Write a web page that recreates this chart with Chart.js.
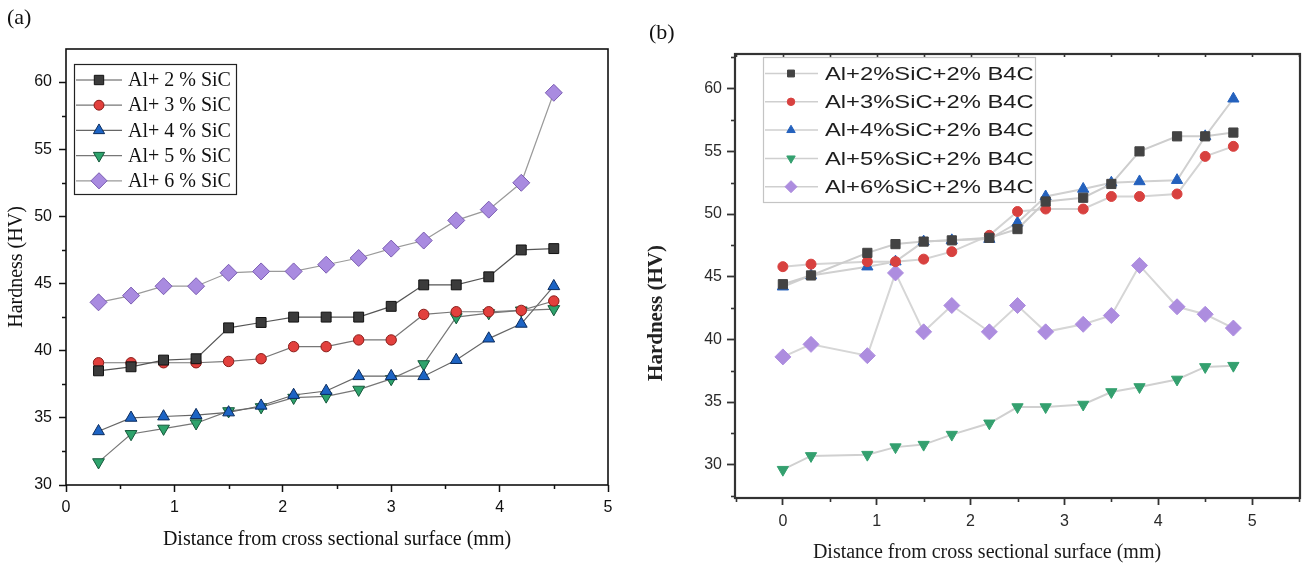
<!DOCTYPE html>
<html>
<head>
<meta charset="utf-8">
<script src="https://cdn.jsdelivr.net/npm/chart.js@4.4.1/dist/chart.umd.min.js"></script>
<style>
  body { margin: 0; background: #fff; width: 1309px; height: 564px; overflow: hidden; position: relative; }
  .panel { position: absolute; top: 0; }
  .tag { position: absolute; font-family: "Liberation Serif", serif; font-size: 22px; color: #111; }
</style>
</head>
<body>
<div class="panel" style="left:0"><canvas id="chartA" width="640" height="564"></canvas></div>
<div class="panel" style="left:640px"><canvas id="chartB" width="669" height="564"></canvas></div>
<div class="tag" style="left:7px;top:4px">(a)</div>
<div class="tag" style="left:649px;top:19px">(b)</div>
<script>
// panel (a): Al + SiC
const distA = [0.3, 0.6, 0.9, 1.2, 1.5, 1.8, 2.1, 2.4, 2.7, 3.0, 3.3, 3.6, 3.9, 4.2, 4.5];
const sic2 = [38.5, 38.8, 39.3, 39.4, 41.7, 42.1, 42.5, 42.5, 42.5, 43.3, 44.9, 44.9, 45.5, 47.5, 47.6];
const sic3 = [39.1, 39.1, 39.1, 39.1, 39.2, 39.4, 40.3, 40.3, 40.8, 40.8, 42.7, 42.9, 42.9, 43.0, 43.7];
const sic4 = [34.0, 35.0, 35.1, 35.2, 35.4, 35.9, 36.7, 37.0, 38.1, 38.1, 38.1, 39.3, 40.9, 42.0, 44.8];
const sic5 = [31.7, 33.8, 34.2, 34.6, 35.5, 35.8, 36.5, 36.6, 37.1, 37.9, 39.0, 42.5, 42.8, 43.0, 43.1];
const sic6 = [43.6, 44.1, 44.8, 44.8, 45.8, 45.9, 45.9, 46.4, 46.9, 47.6, 48.2, 49.7, 50.5, 52.5, 59.2];
const labelsA = ['Al+ 2 % SiC', 'Al+ 3 % SiC', 'Al+ 4 % SiC', 'Al+ 5 % SiC', 'Al+ 6 % SiC'];

// panel (b): Al + SiC + 2% B4C
const distB = [0, 0.3, 0.9, 1.2, 1.5, 1.8, 2.2, 2.5, 2.8, 3.2, 3.5, 3.8, 4.2, 4.5, 4.8];
const b4c2 = [44.4, 45.1, 46.9, 47.6, 47.8, 47.9, 48.1, 48.8, 51.0, 51.3, 52.4, 55.0, 56.2, 56.2, 56.5];
const b4c3 = [45.8, 46.0, 46.2, 46.2, 46.4, 47.0, 48.3, 50.2, 50.4, 50.4, 51.4, 51.4, 51.6, 54.6, 55.4];
const b4c4 = [44.2, 45.1, 45.8, 46.2, 47.8, 47.9, 48.0, 49.3, 51.4, 52.0, 52.5, 52.6, 52.7, 56.2, 59.2];
const b4c5 = [29.6, 30.7, 30.8, 31.4, 31.6, 32.4, 33.3, 34.6, 34.6, 34.8, 35.8, 36.2, 36.8, 37.8, 37.9];
const b4c6 = [38.6, 39.6, 38.7, 45.3, 40.6, 42.7, 40.6, 42.7, 40.6, 41.2, 41.9, 45.9, 42.6, 42.0, 40.9];
const labelsB = ['Al+2%SiC+2% B4C', 'Al+3%SiC+2% B4C', 'Al+4%SiC+2% B4C', 'Al+5%SiC+2% B4C', 'Al+6%SiC+2% B4C'];

const xTitle = 'Distance from cross sectional surface (mm)';
const yTitle = 'Hardness (HV)';

const pts = (xs, ys) => xs.map((x, i) => ({x: x, y: ys[i]}));

const styleA = [
  {pointStyle: 'rect', pointRadius: 7, rotation: 0, fill: '#3b3b3b', edge: '#111', line: '#555'},
  {pointStyle: 'circle', pointRadius: 5.2, rotation: 0, fill: '#e2403d', edge: '#8a1b18', line: '#777'},
  {pointStyle: 'triangle', pointRadius: 6.8, rotation: 0, fill: '#1d64c4', edge: '#0b2c5e', line: '#666'},
  {pointStyle: 'triangle', pointRadius: 6.8, rotation: 180, fill: '#2ea36c', edge: '#14573a', line: '#777'},
  {pointStyle: 'rectRot', pointRadius: 8.5, rotation: 0, fill: '#a98be0', edge: '#7a5cb2', line: '#9a9a9a'}
];
const styleB = [
  {pointStyle: 'rect', pointRadius: 6.5, rotation: 0, fill: '#434343', edge: '#434343', line: '#cdcdcd'},
  {pointStyle: 'circle', pointRadius: 5, rotation: 0, fill: '#d8413f', edge: '#d8413f', line: '#d4d4d4'},
  {pointStyle: 'triangle', pointRadius: 6.5, rotation: 0, fill: '#2461bd', edge: '#2461bd', line: '#d0d0d0'},
  {pointStyle: 'triangle', pointRadius: 6.5, rotation: 180, fill: '#34a06f', edge: '#34a06f', line: '#d0d0d0'},
  {pointStyle: 'rectRot', pointRadius: 8, rotation: 0, fill: '#ad8ddf', edge: '#ad8ddf', line: '#d6d6d6'}
];

function makeSets(xs, series, labels, styles, lineW, edgeW) {
  return series.map((ys, i) => ({
    label: labels[i],
    data: pts(xs, ys),
    showLine: true,
    borderColor: styles[i].line,
    borderWidth: lineW,
    pointStyle: styles[i].pointStyle,
    pointRadius: styles[i].pointRadius,
    pointRotation: styles[i].rotation,
    pointBackgroundColor: styles[i].fill,
    pointBorderColor: styles[i].edge,
    pointBorderWidth: edgeW,
    tension: 0
  }));
}

// frame box, minor ticks, optional top ticks
const framePlugin = {
  id: 'frame',
  afterDraw(chart, args, o) {
    const {ctx, chartArea: a, scales} = chart;
    ctx.save();
    ctx.strokeStyle = o.color;
    ctx.lineWidth = o.width;
    ctx.strokeRect(a.left, a.top, a.right - a.left, a.bottom - a.top);
    ctx.lineWidth = o.tickWidth;
    const xs = scales.x, ys = scales.y;
    for (let v = Math.ceil(xs.min / o.minorX) * o.minorX; v <= xs.max + 1e-9; v += o.minorX) {
      const px = Math.round(xs.getPixelForValue(v)) + 0.5;
      const major = Math.abs(v - Math.round(v)) < 1e-6;
      ctx.beginPath();
      if (!major) { ctx.moveTo(px, a.bottom); ctx.lineTo(px, a.bottom + o.minorLen); }
      if (o.topTicks) { ctx.moveTo(px, a.top); ctx.lineTo(px, a.top + o.topLen); }
      ctx.stroke();
    }
    for (let v = Math.ceil(ys.min / o.minorY) * o.minorY; v <= ys.max + 1e-9; v += o.minorY) {
      if (Math.abs(v / 5 - Math.round(v / 5)) < 1e-6) continue;
      const py = Math.round(ys.getPixelForValue(v)) + 0.5;
      ctx.beginPath();
      ctx.moveTo(a.left, py); ctx.lineTo(a.left - o.minorLen, py);
      ctx.stroke();
    }
    ctx.restore();
  }
};

// legend drawn inside the plot box
const boxLegend = {
  id: 'boxLegend',
  afterDraw(chart, args, o) {
    const ctx = chart.ctx;
    ctx.save();
    ctx.fillStyle = '#fff';
    ctx.fillRect(o.left, o.top, o.width, o.height);
    ctx.strokeStyle = o.border;
    ctx.lineWidth = o.borderWidth;
    ctx.strokeRect(o.left + 0.5, o.top + 0.5, o.width, o.height);
    ctx.textBaseline = 'middle';
    chart.data.datasets.forEach((ds, i) => {
      const y = o.firstRow + i * o.rowGap;
      ctx.strokeStyle = o.lineColor || ds.borderColor;
      ctx.lineWidth = o.lineWidth;
      ctx.beginPath();
      ctx.moveTo(o.lineFrom, y); ctx.lineTo(o.lineTo, y);
      ctx.stroke();
      ctx.fillStyle = ds.pointBackgroundColor;
      ctx.strokeStyle = ds.pointBorderColor;
      ctx.lineWidth = ds.pointBorderWidth;
      Chart.helpers.drawPoint(ctx, {
        pointStyle: ds.pointStyle, rotation: ds.pointRotation,
        radius: ds.pointRadius * o.markScale, borderWidth: ds.pointBorderWidth
      }, o.markX, y);
      ctx.save();
      ctx.translate(o.textX, y + 1);
      ctx.scale(o.stretch, 1);
      ctx.font = o.font;
      ctx.fillStyle = o.textColor;
      ctx.fillText(ds.label, 0, 0);
      ctx.restore();
    });
    ctx.restore();
  }
};

// free-placed axis titles (panel b)
const freeText = {
  id: 'freeText',
  afterDraw(chart, args, o) {
    if (!o.items) return;
    const ctx = chart.ctx;
    o.items.forEach(t => {
      ctx.save();
      ctx.translate(t.x, t.y);
      ctx.rotate(t.rot || 0);
      ctx.font = t.font;
      ctx.fillStyle = t.color;
      ctx.textAlign = 'center';
      ctx.textBaseline = 'middle';
      ctx.fillText(t.text, 0, 0);
      ctx.restore();
    });
  }
};

Chart.register(framePlugin, boxLegend, freeText);

const sans = "'Liberation Sans', Arial, sans-serif";
const serif = "'Liberation Serif', 'Times New Roman', serif";

// ---- chart (a)
new Chart(document.getElementById('chartA'), {
  type: 'scatter',
  data: {datasets: makeSets(distA, [sic2, sic3, sic4, sic5, sic6], labelsA, styleA, 1.2, 1)},
  options: {
    responsive: false,
    animation: false,
    events: [],
    layout: {padding: {left: 0, top: 49, right: 32, bottom: 11}},
    scales: {
      x: {
        type: 'linear', min: 0, max: 5,
        ticks: {stepSize: 1, includeBounds: false, padding: 6, color: '#111', font: {family: sans, size: 16}},
        grid: {drawOnChartArea: false, tickLength: 7, tickColor: '#111', tickWidth: 1.5},
        border: {display: false},
        title: {display: true, text: xTitle, color: '#111', font: {family: serif, size: 20}, padding: {top: 0, bottom: 1}},
        afterFit: s => { s.height = 68; }
      },
      y: {
        min: 30, max: 62.46,
        ticks: {stepSize: 5, includeBounds: false, padding: 7, color: '#111', font: {family: sans, size: 16}},
        grid: {drawOnChartArea: false, tickLength: 7, tickColor: '#111', tickWidth: 1.5},
        border: {display: false},
        title: {display: true, text: yTitle, color: '#111', font: {family: serif, size: 20}, padding: {top: 5, bottom: 0}},
        afterFit: s => { s.width = 66; }
      }
    },
    plugins: {
      legend: {display: false},
      tooltip: {enabled: false},
      frame: {color: '#111', width: 1.6, tickWidth: 1.5, minorX: 0.5, minorY: 2.5, minorLen: 4, topTicks: false},
      boxLegend: {
        left: 74, top: 64, width: 162, height: 130, border: '#222', borderWidth: 1.2,
        firstRow: 80, rowGap: 25.2, lineFrom: 76, lineTo: 122, markX: 99, lineWidth: 1.2,
        textX: 128, stretch: 1, font: "20px " + serif, textColor: '#111', markScale: 0.95
      }
    }
  }
});

// ---- chart (b)
new Chart(document.getElementById('chartB'), {
  type: 'scatter',
  data: {datasets: makeSets(distB, [b4c2, b4c3, b4c4, b4c5, b4c6], labelsB, styleB, 2, 1)},
  options: {
    responsive: false,
    animation: false,
    events: [],
    layout: {padding: {left: 0, top: 54, right: 4, bottom: 20}},
    scales: {
      x: {
        type: 'linear', min: -0.51, max: 5.51,
        ticks: {stepSize: 1, includeBounds: false, padding: 7, color: '#2a2a2a', font: {family: sans, size: 16}},
        grid: {drawOnChartArea: false, tickLength: 7, tickColor: '#333', tickWidth: 1.8},
        border: {display: false},
        title: {display: false},
        afterFit: s => { s.height = 46; }
      },
      y: {
        min: 27.34, max: 62.77,
        ticks: {stepSize: 5, includeBounds: false, padding: 5, color: '#2a2a2a', font: {family: sans, size: 16}},
        grid: {drawOnChartArea: false, tickLength: 8, tickColor: '#333', tickWidth: 1.8},
        border: {display: false},
        title: {display: false},
        afterFit: s => { s.width = 95; }
      }
    },
    plugins: {
      legend: {display: false},
      tooltip: {enabled: false},
      frame: {color: '#333', width: 2.2, tickWidth: 1.6, minorX: 0.5, minorY: 2.5, minorLen: 4, topTicks: true, topLen: 3},
      boxLegend: {
        left: 123, top: 57, width: 272, height: 145, border: '#c4c4c4', borderWidth: 1.2,
        firstRow: 73.5, rowGap: 28.3, lineFrom: 125, lineTo: 178, markX: 151,
        lineColor: '#cfcfcf', lineWidth: 1.5,
        textX: 185, stretch: 1.25, font: "19px " + sans, textColor: '#1e1e1e', markScale: 0.75
      },
      freeText: {items: [
        {text: yTitle, x: 17, y: 313, rot: -Math.PI / 2, font: "bold 21px " + serif, color: '#222'},
        {text: xTitle, x: 347, y: 553, font: "20px " + serif, color: '#1a1a1a'}
      ]}
    }
  }
});
</script>
</body>
</html>
